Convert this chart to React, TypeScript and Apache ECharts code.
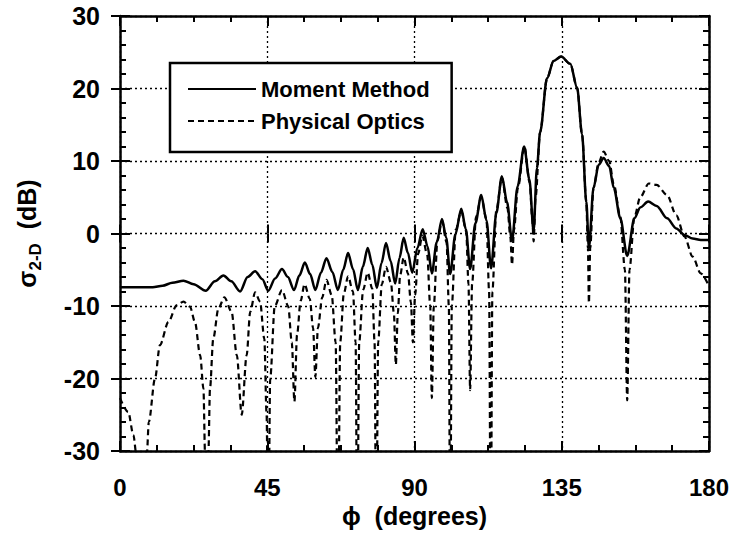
import React, { useEffect, useRef } from 'react';
import * as echarts from 'echarts';

const xTicks = [0, 45, 90, 135, 180];
const yTicks = [-30, -20, -10, 0, 10, 20, 30];
const seriesNames = ['Moment Method', 'Physical Optics'];

const momentX = [0, 6, 10, 13, 16, 19.4, 22.5, 26.2, 29, 31.6, 34, 36.7, 39, 41.3, 43.5, 45.3, 47.4, 49.5, 51.3, 53.2, 54.8, 56.5, 58.1, 59.7, 61.4, 63.1, 64.9, 66.6, 68.2, 69.7, 71.2, 72.7, 74.2, 75.7, 77.1, 78.5, 79.9, 81.3, 82.7, 84.1, 85.4, 86.7, 88, 89.3, 90.9, 92.5, 94, 95.3, 96.8, 98.4, 99.7, 100.9, 102.5, 104.3, 105.7, 107, 108.6, 110.4, 112, 113.4, 115, 116.7, 118.3, 119.8, 121.5, 123.5, 125.1, 126.4, 127.4, 128.4, 130.5, 132.5, 134.8, 137.6, 139.7, 141.2, 142.5, 143.3, 144.7, 146.3, 147.8, 149.5, 150.9, 152.9, 155, 157.2, 159, 161.4, 164, 167.2, 170, 172.5, 175, 177.5, 180];
const momentY = [-7.4, -7.4, -7.4, -7.2, -6.8, -6.5, -7.0, -7.9, -6.6, -5.8, -6.6, -8.0, -6.0, -5.2, -6.3, -7.9, -6.2, -4.9, -6.0, -7.8, -5.8, -4.0, -5.6, -7.8, -5.4, -3.4, -5.3, -7.8, -5.0, -2.7, -4.9, -7.8, -4.6, -2.0, -4.3, -7.5, -4.1, -1.3, -3.8, -6.9, -3.4, -0.6, -2.7, -5.4, -2.0, 0.6, -1.8, -5.5, -1.2, 2.0, -0.6, -5.6, -0.1, 3.4, 0.6, -4.9, 1.4, 5.3, 1.8, -4.8, 2.8, 7.9, 4.3, -1.0, 6.5, 12.0, 7.5, 0.3, 9.0, 14.0, 21.4, 23.8, 24.4, 23.4, 20.1, 13.7, 4.4, -2.0, 6.3, 9.5, 10.4, 9.3, 6.3, 2.1, -3.1, 2.1, 3.6, 4.4, 3.8, 2.1, 0.7, -0.2, -0.7, -0.9, -0.9];

const opticsX = [0, 2.5, 4.1, 5.0, 6.6, 8.2, 8.8, 10.7, 12.2, 14.8, 17.3, 19.4, 21.4, 22.9, 24.5, 25.5, 26.0, 26.5, 27.0, 27.5, 28.5, 30.1, 31.9, 34.1, 35.7, 37.2, 38.7, 39.8, 41.3, 42.8, 44.1, 44.8, 45.3, 45.9, 47.3, 49.5, 51.4, 52.5, 53.3, 54.1, 55.2, 56.4, 58.0, 59.0, 59.7, 60.5, 61.8, 63.1, 64.7, 65.9, 66.6, 67.3, 68.4, 69.7, 71.2, 72.0, 72.5, 73.1, 74.3, 75.7, 77.1, 77.8, 78.3, 78.9, 80.0, 81.3, 82.8, 83.7, 84.3, 84.9, 85.6, 86.7, 88.0, 88.9, 89.5, 90.2, 91.1, 92.4, 93.9, 94.8, 95.3, 95.9, 97.0, 98.4, 99.8, 100.5, 100.9, 101.4, 102.6, 104.3, 105.8, 106.5, 107.0, 107.6, 108.8, 110.4, 112.0, 112.8, 113.3, 113.8, 115.0, 116.7, 118.4, 119.3, 119.8, 120.4, 121.6, 123.6, 125.2, 126.0, 126.4, 127.0, 128.4, 130.5, 132.5, 134.8, 137.6, 139.7, 141.2, 142.5, 143.0, 143.3, 143.7, 144.7, 146.3, 147.8, 149.5, 150.9, 152.9, 154.3, 155.0, 155.7, 157.2, 159.0, 161.6, 164.0, 167.2, 170.0, 172.5, 175.0, 177.5, 180.0];
const opticsY = [-22.7, -24.6, -27.8, -30.5, -45, -30.5, -26, -20, -15.4, -12.2, -9.9, -9.4, -10.1, -12.2, -16.8, -21.4, -30.5, -45, -30.5, -21.4, -14.5, -10.3, -8.8, -10.8, -16.8, -25, -16.8, -10.8, -8.1, -9.4, -14.5, -25, -45, -20, -10, -7.8, -10, -15, -23.2, -14, -9.3, -7.0, -9.0, -13, -19.8, -13, -8.8, -6.4, -8.5, -15, -45, -15, -8.3, -5.9, -8, -15, -45, -15, -7.8, -5.4, -7.6, -15, -45, -15, -7.0, -4.6, -6.8, -11, -18.1, -11, -5.8, -3.3, -5.5, -9.5, -15, -8.5, -2.8, -0.3, -3, -10, -22.7, -10, -1, 1.7, -1.2, -10, -45, -10, 0.5, 3.1, 0.3, -7, -21.6, -7, 2.3, 5.0, 2.0, -8, -45, -8, 3.2, 7.7, 3.5, -0.5, -4.3, 0.5, 6.3, 12.0, 7.0, 2.0, -1.1, 5.0, 14.0, 21.4, 23.8, 24.4, 23.4, 20.1, 13.7, 4.4, -2.0, -9.6, -2.0, 6.3, 9.8, 11.3, 10.0, 6.8, 2.3, -5.0, -23.0, -5.0, 2.3, 5.0, 6.9, 6.7, 5.3, 2.5, -0.4, -3.2, -5.5, -7.3];

const FONT = 'Liberation Sans';

export default function App() {
  const ref = useRef<HTMLDivElement>(null);
  useEffect(() => {
    const chart = echarts.init(ref.current!, null, { renderer: 'svg' });
    const rect = { left: 120, top: 16, width: 589, height: 435 };
    const black = '#000';
    const lineAxis = { show: true, onZero: false, lineStyle: { color: black, width: 2.5 } };
    const innerTick = { show: true, inside: true, length: 10, lineStyle: { color: black, width: 2 } };
    const outerTick = { show: true, inside: false, length: 9, lineStyle: { color: black, width: 2 } };
    const grid = { show: false, lineStyle: { color: black, width: 1.3, type: [2, 3] } };
    const xBase = { type: 'value', min: 0, max: 180, interval: 45 };
    const yBase = { type: 'value', min: -30, max: 30, interval: 10 };
    const noLabel = { show: false };

    chart.setOption({
      animation: false,
      backgroundColor: '#fff',
      grid: [{ ...rect }, { ...rect }],
      legend: {
        data: seriesNames,
        orient: 'vertical',
        left: 170,
        top: 63,
        itemWidth: 68,
        itemHeight: 14,
        itemGap: 10,
        backgroundColor: '#fff',
        borderColor: black,
        borderWidth: 2.5,
        padding: [15, 22, 20, 17],
        itemStyle: { opacity: 0, borderWidth: 0 },
        textStyle: { fontSize: 22, fontWeight: 'bold', fontFamily: FONT, color: black, lineHeight: 22 },
      },
      xAxis: [
        {
          ...xBase, gridIndex: 0, position: 'bottom',
          axisLine: lineAxis, axisTick: innerTick,
          minorTick: { show: true, splitNumber: 4, length: 6, lineStyle: { color: black, width: 2 } },
          splitLine: { ...grid, show: true },
          axisLabel: {
            color: black, fontSize: 24, fontFamily: FONT, fontWeight: 'bold', margin: 24,
            formatter: (v: number) => (xTicks.includes(v) ? String(v) : ''),
          },
          name: 'ϕ  (degrees)', nameLocation: 'middle', nameGap: 50,
          nameTextStyle: { color: black, fontSize: 25, fontWeight: 'bold', fontFamily: FONT },
        },
        {
          ...xBase, gridIndex: 0, position: 'top',
          axisLine: lineAxis, axisTick: innerTick,
          minorTick: { show: true, splitNumber: 4, length: 6, lineStyle: { color: black, width: 2 } },
          splitLine: { show: false }, axisLabel: noLabel,
        },
        { ...xBase, gridIndex: 1, position: 'bottom', axisLine: { show: false }, axisTick: outerTick, splitLine: { show: false }, axisLabel: noLabel },
        { ...xBase, gridIndex: 1, position: 'top', axisLine: { show: false }, axisTick: outerTick, splitLine: { show: false }, axisLabel: noLabel },
      ],
      yAxis: [
        {
          ...yBase, gridIndex: 0, position: 'left',
          axisLine: lineAxis, axisTick: innerTick,
          minorTick: { show: true, splitNumber: 5, length: 6, lineStyle: { color: black, width: 2 } },
          splitLine: { ...grid, show: true },
          axisLabel: {
            color: black, fontSize: 25, fontFamily: FONT, fontWeight: 'bold', margin: 20,
            formatter: (v: number) => (yTicks.includes(v) ? String(v) : ''),
          },
          name: '{s|σ}{sub|2-D}{s|  (dB)}', nameLocation: 'middle', nameGap: 76, nameRotate: 90,
          nameTextStyle: {
            rich: {
              s: { fontSize: 25, fontWeight: 'bold', fontFamily: FONT, color: black, lineHeight: 34, verticalAlign: 'middle' },
              sub: { fontSize: 17, fontWeight: 'bold', fontFamily: FONT, color: black, lineHeight: 18, verticalAlign: 'bottom' },
            },
          },
        },
        {
          ...yBase, gridIndex: 0, position: 'right',
          axisLine: lineAxis, axisTick: innerTick,
          minorTick: { show: true, splitNumber: 5, length: 6, lineStyle: { color: black, width: 2 } },
          splitLine: { show: false }, axisLabel: noLabel,
        },
        { ...yBase, gridIndex: 1, position: 'left', axisLine: { show: false }, axisTick: outerTick, splitLine: { show: false }, axisLabel: noLabel },
        { ...yBase, gridIndex: 1, position: 'right', axisLine: { show: false }, axisTick: outerTick, splitLine: { show: false }, axisLabel: noLabel },
      ],
      series: [
        {
          name: seriesNames[0], type: 'line', xAxisIndex: 0, yAxisIndex: 0,
          data: momentX.map((x, i) => [x, momentY[i]]),
          symbol: 'none', showSymbol: false, smooth: 0.3, smoothMonotone: 'x', clip: true,
          lineStyle: { color: black, width: 2.5, type: 'solid' },
          itemStyle: { color: black }, z: 4,
        },
        {
          name: seriesNames[1], type: 'line', xAxisIndex: 0, yAxisIndex: 0,
          data: opticsX.map((x, i) => [x, opticsY[i]]),
          symbol: 'none', showSymbol: false, smooth: 0.3, smoothMonotone: 'x', clip: true,
          lineStyle: { color: black, width: 2.2, type: [6, 4] },
          itemStyle: { color: black }, z: 3,
        },
      ],
    });
    return () => chart.dispose();
  }, []);
  return <div ref={ref} style={{ position: 'fixed', left: 0, top: 0, width: 743, height: 546 }} />;
}
